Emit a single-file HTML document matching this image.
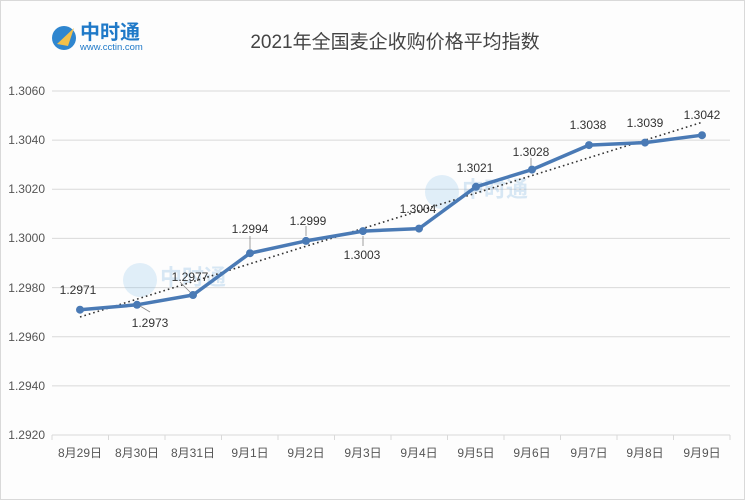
<!DOCTYPE html>
<html><head><meta charset="utf-8"><style>
body{margin:0;background:#fff}
svg{display:block;font-family:"Liberation Sans","Noto Sans CJK SC",sans-serif}
</style></head><body>
<svg width="745" height="500" viewBox="0 0 745 500">
<rect x="0.5" y="0.5" width="744" height="499" fill="#fdfdfd" stroke="#d9d9d9"/>
<!-- logo -->
<circle cx="64" cy="38" r="12" fill="#2f86cf"/>
<path d="M57 44 L74 28 L68 46 Z" fill="#f3c04a"/>
<text x="80" y="39" font-size="20" font-weight="bold" fill="#1f79c8">中时通</text>
<text x="80" y="50" font-size="9.5" fill="#1f79c8">www.cctin.com</text>
<text x="395" y="48" font-size="19" fill="#444" text-anchor="middle">2021年全国麦企收购价格平均指数</text>
<!-- grid -->
<g stroke="#d9d9d9" stroke-width="1">
<line x1="52" y1="91" x2="730" y2="91"/>
<line x1="52" y1="140.1" x2="730" y2="140.1"/>
<line x1="52" y1="189.3" x2="730" y2="189.3"/>
<line x1="52" y1="238.4" x2="730" y2="238.4"/>
<line x1="52" y1="287.6" x2="730" y2="287.6"/>
<line x1="52" y1="336.7" x2="730" y2="336.7"/>
<line x1="52" y1="385.9" x2="730" y2="385.9"/>
<line x1="52" y1="435" x2="730" y2="435"/>
</g>
<g stroke="#d9d9d9">
<line x1="52" y1="435" x2="52" y2="440"/><line x1="108.5" y1="435" x2="108.5" y2="440"/><line x1="165" y1="435" x2="165" y2="440"/><line x1="221.5" y1="435" x2="221.5" y2="440"/><line x1="278" y1="435" x2="278" y2="440"/><line x1="334.5" y1="435" x2="334.5" y2="440"/><line x1="391" y1="435" x2="391" y2="440"/><line x1="447.5" y1="435" x2="447.5" y2="440"/><line x1="504" y1="435" x2="504" y2="440"/><line x1="560.5" y1="435" x2="560.5" y2="440"/><line x1="617" y1="435" x2="617" y2="440"/><line x1="673.5" y1="435" x2="673.5" y2="440"/><line x1="730" y1="435" x2="730" y2="440"/>
</g>
<g font-size="12" fill="#555" text-anchor="end">
<text x="45" y="95">1.3060</text><text x="45" y="144">1.3040</text><text x="45" y="193">1.3020</text><text x="45" y="242">1.3000</text><text x="45" y="292">1.2980</text><text x="45" y="341">1.2960</text><text x="45" y="390">1.2940</text><text x="45" y="439">1.2920</text>
</g>
<g font-size="12" fill="#555" text-anchor="middle">
<text x="80" y="457">8月29日</text><text x="137" y="457">8月30日</text><text x="193" y="457">8月31日</text><text x="250" y="457">9月1日</text><text x="306" y="457">9月2日</text><text x="363" y="457">9月3日</text><text x="419" y="457">9月4日</text><text x="476" y="457">9月5日</text><text x="532" y="457">9月6日</text><text x="589" y="457">9月7日</text><text x="645" y="457">9月8日</text><text x="702" y="457">9月9日</text>
</g>
<!-- watermarks -->
<g opacity="0.25">
<circle cx="140" cy="280" r="17" fill="#8cc2ea"/><text x="160" y="285" font-size="22" font-weight="bold" fill="#6aa8dc">中时通</text>
<circle cx="442" cy="192" r="17" fill="#8cc2ea"/><text x="462" y="197" font-size="22" font-weight="bold" fill="#6aa8dc">中时通</text>
</g>
<!-- trend -->
<line x1="80" y1="317" x2="703" y2="122" stroke="#333" stroke-width="1.6" stroke-dasharray="1.6,3"/>
<!-- series -->
<polyline fill="none" stroke="#4a7ab5" stroke-width="3.5" stroke-linejoin="round" points="80,309.7 137,304.8 193,295 250,253.2 306,240.9 363,231.1 419,228.6 476,186.8 532,169.6 589,145.1 645,142.6 702,135.2"/>
<g fill="#4a7ab5">
<circle cx="80" cy="309.7" r="4"/><circle cx="137" cy="304.8" r="4"/><circle cx="193" cy="295" r="4"/><circle cx="250" cy="253.2" r="4"/><circle cx="306" cy="240.9" r="4"/><circle cx="363" cy="231.1" r="4"/><circle cx="419" cy="228.6" r="4"/><circle cx="476" cy="186.8" r="4"/><circle cx="532" cy="169.6" r="4"/><circle cx="589" cy="145.1" r="4"/><circle cx="645" cy="142.6" r="4"/><circle cx="702" cy="135.2" r="4"/>
</g>
<g stroke="#888" stroke-width="0.8">
<line x1="140" y1="306" x2="150" y2="312"/><line x1="180" y1="282" x2="190" y2="292"/><line x1="250" y1="236" x2="250" y2="249"/><line x1="306" y1="226" x2="306" y2="236"/><line x1="363" y1="236" x2="363" y2="246"/><line x1="531" y1="158" x2="531" y2="166"/>
</g>
<g font-size="12" fill="#333" text-anchor="middle">
<text x="78" y="294">1.2971</text><text x="150" y="327">1.2973</text><text x="190" y="281">1.2977</text><text x="250" y="233">1.2994</text><text x="308" y="225">1.2999</text><text x="362" y="259">1.3003</text><text x="418" y="213">1.3004</text><text x="475" y="172">1.3021</text><text x="531" y="156">1.3028</text><text x="588" y="129">1.3038</text><text x="645" y="127">1.3039</text><text x="702" y="119">1.3042</text>
</g>
</svg>
</body></html>
